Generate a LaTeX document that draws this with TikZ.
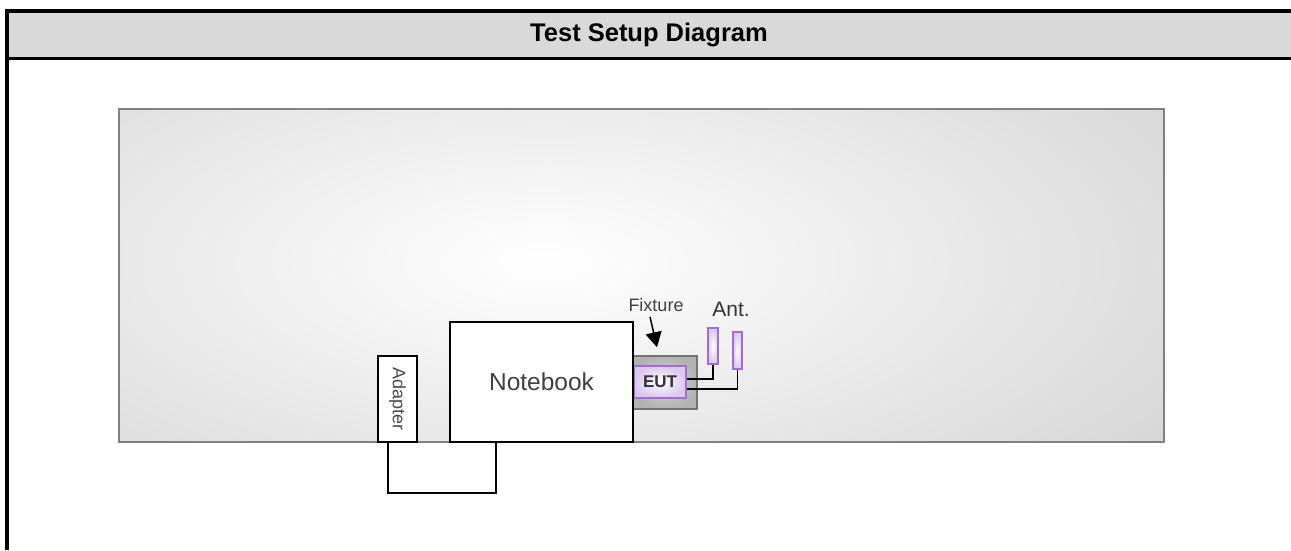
\documentclass[tikz,border=0pt]{standalone}
\usepackage{fontspec}
\setmainfont{Liberation Sans}
\usetikzlibrary{arrows.meta}
\definecolor{purp}{RGB}{160,112,200}
\definecolor{lav}{RGB}{220,198,238}
\begin{document}
\begin{tikzpicture}[x=1pt,y=-1pt,
  box/.style={draw=black, line width=1.3pt, fill=white, inner sep=0pt},
  fixturebox/.style={draw=black!55, line width=1.5pt, inner color=black!16, outer color=black!30, inner sep=0pt},
  purpbox/.style={draw=purp, line width=1.5pt, inner color=white, outer color=lav, inner sep=0pt},
  wire/.style={draw=black, line width=1.3pt},
  lbl/.style={inner sep=0pt}]
\useasboundingbox (0,0) rectangle (1291,550);
% header
\fill[black!15] (7,11) rectangle (1291,58.5);
\node[lbl, font=\bfseries\fontsize{25.5}{29}\selectfont] (title) at (649,35) {Test Setup Diagram};
\draw[line width=4pt] (7,550) -- (7,11) -- (1291,11);
\draw[line width=3pt] (7,58.5) -- (1291,58.5);
% panel
\begin{scope}
\clip (119,109) rectangle (1164,442);
\shade[inner color=white, outer color=black!24] (545,262) ellipse (1150 and 480);
\end{scope}
\draw[black!50, line width=2pt] (119,109) rectangle (1164,442);
% fixture and EUT
\node[fixturebox, minimum width=64pt, minimum height=53pt] (fixture) at (665,382.5) {};
\node[purpbox, minimum width=52pt, minimum height=32pt, font=\bfseries\fontsize{17}{20}\selectfont, text=black!80] (eut) at (660,382) {EUT};
% notebook and adapter
\node[box, minimum width=183pt, minimum height=120pt, font=\fontsize{24.5}{28}\selectfont, text=black!75] (notebook) at (541.5,382) {Notebook};
\node[box, minimum width=39pt, minimum height=86pt, font=\fontsize{18}{20}\selectfont, text=black!70] (adapter) at (397.5,399) {\rotatebox{-90}{Adapter}};
% antennas
\node[purpbox, minimum width=10pt, minimum height=36pt] (ant1) at (713,346) {};
\node[purpbox, minimum width=9pt, minimum height=37pt] (ant2) at (737.5,350.5) {};
\draw[wire] ([yshift=3pt]eut.east) -| (ant1.south);
\draw[wire] ([yshift=-7pt]eut.east) -| (ant2.south);
% labels
\node[lbl, font=\fontsize{18}{20}\selectfont, text=black!75] (fixlabel) at (656,305) {Fixture};
\node[lbl, font=\fontsize{21}{24}\selectfont, text=black!80] (antlabel) at (731,309) {Ant.};
\draw[line width=1.5pt, -{Triangle[width=16pt,length=15pt]}] ([xshift=-6pt,yshift=-5pt]fixlabel.south) -- ([xshift=-8pt,yshift=8pt]fixture.north);
% cable
\coordinate (cabL) at (388,493);
\coordinate (cabR) at (496,493);
\draw[wire] (adapter.south -| cabL) -- (cabL) -- (cabR) -- (notebook.south -| cabR);
\end{tikzpicture}
\end{document}
